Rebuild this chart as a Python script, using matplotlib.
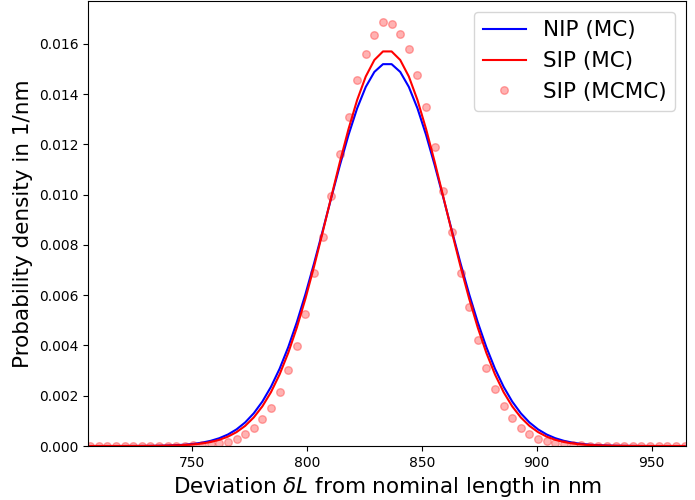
import matplotlib
matplotlib.use("Agg")
import matplotlib.pyplot as plt
import numpy as np

# common grid of deviation values (nm)
x_nm = [705.60, 709.35, 713.10, 716.85, 720.60, 724.35, 728.10, 731.85, 735.60, 739.35,
        743.10, 746.85, 750.60, 754.35, 758.10, 761.85, 765.60, 769.35, 773.10, 776.85,
        780.60, 784.35, 788.10, 791.85, 795.60, 799.35, 803.10, 806.85, 810.60, 814.35,
        818.10, 821.85, 825.60, 829.35, 833.10, 836.85, 840.60, 844.35, 848.10, 851.85,
        855.60, 859.35, 863.10, 866.85, 870.60, 874.35, 878.10, 881.85, 885.60, 889.35,
        893.10, 896.85, 900.60, 904.35, 908.10, 911.85, 915.60, 919.35, 923.10, 926.85,
        930.60, 934.35, 938.10, 941.85, 945.60, 949.35, 953.10, 956.85, 960.60, 964.35]

nip_mc = [0.0, 0.0, 0.0, 0.0, 0.000001, 0.000002, 0.0000037, 0.0000066, 0.000011, 0.000020,
          0.000033, 0.000053, 0.000085, 0.000134, 0.000206, 0.000310, 0.000457, 0.000661, 0.000936, 0.001300,
          0.001767, 0.002355, 0.003072, 0.003929, 0.004923, 0.006041, 0.007265, 0.008558, 0.009878, 0.011169,
          0.012375, 0.013431, 0.014283, 0.014880, 0.015188, 0.015188, 0.014880, 0.014283, 0.013431, 0.012375,
          0.011169, 0.009878, 0.008558, 0.007265, 0.006041, 0.004923, 0.003929, 0.003072, 0.002355, 0.001767,
          0.001300, 0.000936, 0.000661, 0.000457, 0.000310, 0.000206, 0.000134, 0.000085, 0.000053, 0.000033,
          0.000020, 0.000011, 0.0000066, 0.0000037, 0.000002, 0.000001, 0.0, 0.0, 0.0, 0.0]

sip_mc = [0.0, 0.0, 0.0, 0.0, 0.0, 0.000001, 0.000002, 0.000004, 0.000007, 0.000013,
          0.000022, 0.000037, 0.000062, 0.000100, 0.000158, 0.000245, 0.000372, 0.000552, 0.000800, 0.001136,
          0.001577, 0.002142, 0.002847, 0.003702, 0.004710, 0.005862, 0.007139, 0.008504, 0.009911, 0.011302,
          0.012609, 0.013763, 0.014697, 0.015354, 0.015694, 0.015694, 0.015354, 0.014697, 0.013763, 0.012609,
          0.011302, 0.009911, 0.008504, 0.007139, 0.005862, 0.004710, 0.003702, 0.002847, 0.002142, 0.001577,
          0.001136, 0.000800, 0.000552, 0.000372, 0.000245, 0.000158, 0.000100, 0.000062, 0.000037, 0.000022,
          0.000013, 0.000007, 0.000004, 0.000002, 0.000001, 0.0, 0.0, 0.0, 0.0, 0.0]

sip_mcmc = [0.0, 0.0, 0.0, 0.0, 0.0, 0.0, 0.0, 0.0, 0.0, 0.0,
            0.0, 0.00001, 0.00002, 0.00003, 0.00006, 0.00010, 0.00017, 0.00028, 0.00046, 0.00070,
            0.00106, 0.00152, 0.00214, 0.00302, 0.00398, 0.00527, 0.00687, 0.00831, 0.00994, 0.01162,
            0.01310, 0.01454, 0.01559, 0.01634, 0.01687, 0.01678, 0.01638, 0.01581, 0.01476, 0.01347,
            0.01188, 0.01016, 0.00851, 0.00690, 0.00551, 0.00420, 0.00312, 0.00228, 0.00159, 0.00110,
            0.00073, 0.00048, 0.00029, 0.00019, 0.00011, 0.00007, 0.00004, 0.00002, 0.00001, 0.0,
            0.0, 0.0, 0.0, 0.0, 0.0, 0.0, 0.0, 0.0, 0.0, 0.0]

x_ticks = [750, 800, 850, 900, 950]
y_ticks = [0.000, 0.002, 0.004, 0.006, 0.008, 0.010, 0.012, 0.014, 0.016]

fig = plt.figure(figsize=(6.95, 5.0), dpi=100)
ax = fig.add_axes([0.1266, 0.108, 0.8605, 0.89])

ax.plot(x_nm, nip_mc, color="blue", lw=1.5, label="NIP (MC)")
ax.plot(x_nm, sip_mc, color="red", lw=1.5, label="SIP (MC)")
ax.plot(x_nm, sip_mcmc, "o", color="red", alpha=0.3, markersize=5.5, label="SIP (MCMC)")

ax.set_xlim(704.7, 965.0)
ax.set_ylim(0, 0.0177)
ax.set_xticks(x_ticks)
ax.set_yticks(y_ticks)
ax.set_yticklabels([f"{v:.3f}" for v in y_ticks])
ax.tick_params(labelsize=10)

ax.set_xlabel(r"Deviation $\delta L$ from nominal length in nm", fontsize=15.5)
ax.set_ylabel("Probability density in 1/nm", fontsize=15.5)
ax.legend(loc="upper right", fontsize=15.5)

fig.savefig("out.png", dpi=100)
